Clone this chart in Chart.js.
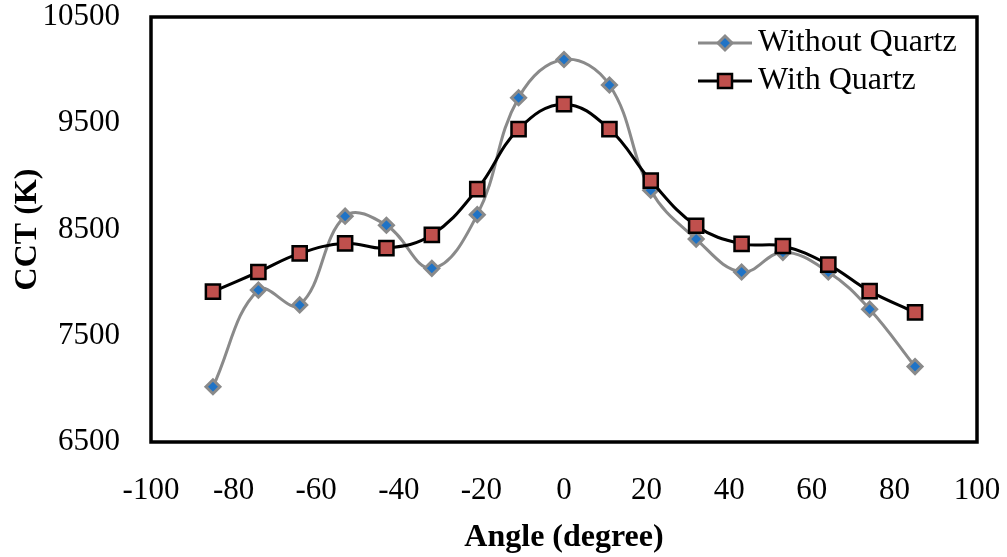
<!DOCTYPE html>
<html>
<head>
<meta charset="utf-8">
<script src="https://cdn.jsdelivr.net/npm/chart.js@4.4.1/dist/chart.umd.min.js"></script>
<style>
html,body{margin:0;padding:0;background:#fff;}
#wrap{width:1007px;height:557px;position:relative;}
</style>
</head>
<body>
<div id="wrap"><canvas id="c" width="1007" height="557"></canvas></div>
<script>
const angles = [-85, -74, -64, -53, -43, -32, -21, -11, 0, 11, 21, 32, 43, 53, 64, 74, 85];
const withoutQuartz = [7020, 7930, 7790, 8625, 8540, 8135, 8640, 9740, 10100, 9860, 8870, 8410, 8100, 8285, 8100, 7750, 7210];
const withQuartz = [7915, 8100, 8275, 8370, 8325, 8450, 8880, 9445, 9680, 9445, 8960, 8535, 8365, 8345, 8170, 7920, 7720];
const seriesNames = ['Without Quartz', 'With Quartz'];
const xTicks = [-100, -80, -60, -40, -20, 0, 20, 40, 60, 80, 100];
const yTicks = [6500, 7500, 8500, 9500, 10500];

const SERIF = '"Liberation Serif", "Times New Roman", serif';
const GRAY = '#8a8a8a';
const BLUE = '#1f73c6';
const RED = '#c0504d';

function pts(vals){ return angles.map((a,i)=>({x:a, y:vals[i]})); }

function drawDiamond(ctx, x, y, r){
  ctx.save();
  ctx.beginPath();
  ctx.moveTo(x - r, y); ctx.lineTo(x, y - r); ctx.lineTo(x + r, y); ctx.lineTo(x, y + r); ctx.closePath();
  ctx.fillStyle = BLUE; ctx.fill();
  ctx.lineWidth = 3; ctx.strokeStyle = GRAY; ctx.stroke();
  ctx.restore();
}
function drawSquare(ctx, x, y, s){
  ctx.save();
  ctx.fillStyle = RED; ctx.fillRect(x - s/2, y - s/2, s, s);
  ctx.lineWidth = 2.5; ctx.strokeStyle = '#000'; ctx.strokeRect(x - s/2, y - s/2, s, s);
  ctx.restore();
}

const framePlugin = {
  id: 'frame',
  afterDatasetsDraw(chart){
    const {ctx, chartArea:a} = chart;
    ctx.save();
    ctx.lineWidth = 3.5; ctx.strokeStyle = '#000';
    ctx.strokeRect(a.left, a.top, a.right - a.left, a.bottom - a.top);
    ctx.restore();
  }
};

const legendPlugin = {
  id: 'customLegend',
  afterDraw(chart){
    const {ctx, chartArea:a} = chart;
    const x0 = a.right - 279, x1 = a.right - 225, xm = (x0 + x1)/2, tx = a.right - 219;
    const rows = [a.top + 26, a.top + 64];
    ctx.save();
    ctx.font = '32px ' + SERIF;
    ctx.textBaseline = 'middle';
    ctx.fillStyle = '#000';
    ctx.lineWidth = 3; ctx.strokeStyle = GRAY;
    ctx.beginPath(); ctx.moveTo(x0, rows[0]); ctx.lineTo(x1, rows[0]); ctx.stroke();
    drawDiamond(ctx, xm, rows[0], 7);
    ctx.fillText(seriesNames[0], tx, rows[0]);
    ctx.lineWidth = 3; ctx.strokeStyle = '#000';
    ctx.beginPath(); ctx.moveTo(x0, rows[1]); ctx.lineTo(x1, rows[1]); ctx.stroke();
    drawSquare(ctx, xm, rows[1], 14);
    ctx.fillText(seriesNames[1], tx, rows[1]);
    ctx.restore();
  }
};

new Chart(document.getElementById('c'), {
  type: 'line',
  data: {
    datasets: [
      {
        label: seriesNames[0],
        data: pts(withoutQuartz),
        borderColor: GRAY,
        borderWidth: 3,
        tension: 0.4,
        pointStyle: 'rectRot',
        pointRadius: 7,
        pointBackgroundColor: BLUE,
        pointBorderColor: GRAY,
        pointBorderWidth: 3,
        order: 2
      },
      {
        label: seriesNames[1],
        data: pts(withQuartz),
        borderColor: '#000',
        borderWidth: 3,
        tension: 0.4,
        pointStyle: 'rect',
        pointRadius: 10,
        pointBackgroundColor: RED,
        pointBorderColor: '#000',
        pointBorderWidth: 2.5,
        order: 1
      }
    ]
  },
  options: {
    responsive: false,
    animation: false,
    devicePixelRatio: 1,
    layout: { padding: { left: 0, right: 30, top: 17, bottom: 0 } },
    plugins: { legend: { display: false }, tooltip: { enabled: false } },
    scales: {
      x: {
        type: 'linear',
        min: -100, max: 100,
        afterBuildTicks(s){ s.ticks = xTicks.map(v=>({value:v})); },
        afterFit(s){ s.height = 115; s.paddingLeft = 0; s.paddingRight = 0; },
        grid: { display: false, drawTicks: false },
        border: { display: false },
        ticks: { padding: 30, color: '#000', font: { family: SERIF, size: 31 }, maxRotation: 0, autoSkip: false, callback: v => String(v) },
        title: { display: true, text: 'Angle (degree)', color: '#000', font: { family: SERIF, size: 32, weight: 'bold' }, padding: { top: 0, bottom: 0 } }
      },
      y: {
        min: 6500, max: 10500,
        afterBuildTicks(s){ s.ticks = yTicks.map(v=>({value:v})); },
        afterFit(s){ s.width = 151; s.paddingTop = 0; s.paddingBottom = 0; },
        grid: { display: false, drawTicks: false },
        border: { display: false },
        ticks: { padding: 31, color: '#000', font: { family: SERIF, size: 31 }, autoSkip: false, callback: v => String(v) },
        title: { display: true, text: 'CCT (K)', color: '#000', font: { family: SERIF, size: 32, weight: 'bold' }, padding: { top: 9, bottom: 0 } }
      }
    }
  },
  plugins: [framePlugin, legendPlugin]
});
</script>
</body>
</html>
